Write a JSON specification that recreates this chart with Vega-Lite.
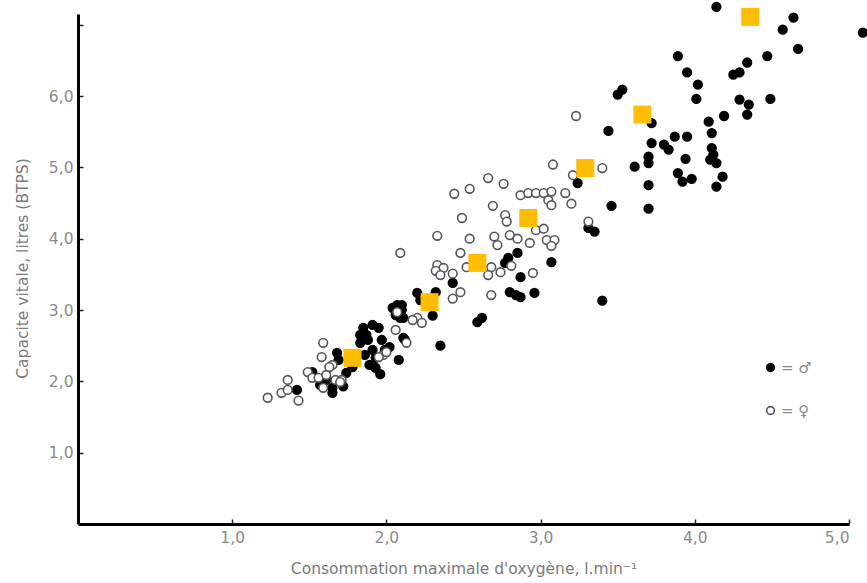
{
  "$schema": "https://vega.github.io/schema/vega-lite/v6.json",
  "width": 771,
  "height": 510,
  "autosize": {"type": "none"},
  "padding": {"left": 78, "top": 14, "right": 18, "bottom": 59},
  "background": "white",
  "config": {
    "view": {"stroke": null},
    "font": "DejaVu Sans",
    "axis": {"grid": false, "domainColor": "#000000", "domainWidth": 3, "tickColor": "#222222", "tickWidth": 1.5, "labelColor": "#8a8a8a", "titleColor": "#7a7a7a", "labelFont": "DejaVu Sans", "titleFont": "DejaVu Sans", "titleFontWeight": "normal"}
  },
  "datasets": {
    "pts": [
      {"x":4.14,"y":7.25,"g":"♂"},{"x":4.64,"y":7.10,"g":"♂"},{"x":4.57,"y":6.93,"g":"♂"},{"x":5.09,"y":6.89,"g":"♂"},
      {"x":4.67,"y":6.66,"g":"♂"},{"x":3.89,"y":6.56,"g":"♂"},{"x":4.47,"y":6.56,"g":"♂"},{"x":4.34,"y":6.47,"g":"♂"},
      {"x":3.95,"y":6.33,"g":"♂"},{"x":4.25,"y":6.30,"g":"♂"},{"x":4.29,"y":6.33,"g":"♂"},{"x":4.02,"y":6.16,"g":"♂"},
      {"x":4.01,"y":5.96,"g":"♂"},{"x":4.29,"y":5.95,"g":"♂"},{"x":4.35,"y":5.88,"g":"♂"},{"x":4.49,"y":5.96,"g":"♂"},
      {"x":4.34,"y":5.74,"g":"♂"},{"x":4.19,"y":5.72,"g":"♂"},{"x":4.09,"y":5.64,"g":"♂"},{"x":3.72,"y":5.62,"g":"♂"},
      {"x":3.53,"y":6.09,"g":"♂"},{"x":3.50,"y":6.02,"g":"♂"},{"x":3.44,"y":5.51,"g":"♂"},{"x":4.11,"y":5.48,"g":"♂"},
      {"x":3.87,"y":5.43,"g":"♂"},{"x":3.95,"y":5.43,"g":"♂"},{"x":3.72,"y":5.34,"g":"♂"},{"x":3.80,"y":5.32,"g":"♂"},
      {"x":3.83,"y":5.25,"g":"♂"},{"x":4.11,"y":5.27,"g":"♂"},{"x":4.12,"y":5.18,"g":"♂"},{"x":4.10,"y":5.11,"g":"♂"},
      {"x":4.14,"y":5.06,"g":"♂"},{"x":3.70,"y":5.15,"g":"♂"},{"x":3.70,"y":5.06,"g":"♂"},{"x":3.94,"y":5.12,"g":"♂"},
      {"x":3.61,"y":5.01,"g":"♂"},{"x":3.89,"y":4.92,"g":"♂"},{"x":3.92,"y":4.80,"g":"♂"},{"x":3.98,"y":4.84,"g":"♂"},
      {"x":4.18,"y":4.87,"g":"♂"},{"x":4.14,"y":4.73,"g":"♂"},{"x":3.70,"y":4.75,"g":"♂"},{"x":3.24,"y":4.78,"g":"♂"},
      {"x":3.46,"y":4.46,"g":"♂"},{"x":3.70,"y":4.42,"g":"♂"},{"x":3.31,"y":4.15,"g":"♂"},{"x":3.35,"y":4.10,"g":"♂"},
      {"x":3.40,"y":3.13,"g":"♂"},{"x":2.85,"y":3.80,"g":"♂"},{"x":3.07,"y":3.67,"g":"♂"},{"x":2.77,"y":3.66,"g":"♂"},
      {"x":2.79,"y":3.73,"g":"♂"},{"x":2.87,"y":3.46,"g":"♂"},{"x":2.43,"y":3.38,"g":"♂"},{"x":2.80,"y":3.25,"g":"♂"},
      {"x":2.84,"y":3.21,"g":"♂"},{"x":2.87,"y":3.18,"g":"♂"},{"x":2.96,"y":3.24,"g":"♂"},{"x":2.20,"y":3.24,"g":"♂"},
      {"x":2.32,"y":3.25,"g":"♂"},{"x":2.30,"y":2.92,"g":"♂"},{"x":2.59,"y":2.83,"g":"♂"},{"x":2.62,"y":2.89,"g":"♂"},
      {"x":2.10,"y":3.07,"g":"♂"},{"x":2.11,"y":2.89,"g":"♂"},{"x":2.35,"y":2.50,"g":"♂"},{"x":2.12,"y":2.58,"g":"♂"},
      {"x":2.04,"y":3.03,"g":"♂"},{"x":2.07,"y":3.07,"g":"♂"},{"x":2.10,"y":3.00,"g":"♂"},{"x":2.06,"y":2.93,"g":"♂"},
      {"x":2.09,"y":2.89,"g":"♂"},{"x":1.83,"y":2.54,"g":"♂"},{"x":1.87,"y":2.65,"g":"♂"},{"x":1.85,"y":2.75,"g":"♂"},
      {"x":1.91,"y":2.79,"g":"♂"},{"x":1.95,"y":2.75,"g":"♂"},{"x":1.86,"y":2.37,"g":"♂"},{"x":1.89,"y":2.23,"g":"♂"},
      {"x":1.93,"y":2.33,"g":"♂"},{"x":1.91,"y":2.44,"g":"♂"},{"x":1.97,"y":2.58,"g":"♂"},{"x":1.99,"y":2.44,"g":"♂"},
      {"x":2.02,"y":2.48,"g":"♂"},{"x":2.08,"y":2.30,"g":"♂"},{"x":2.11,"y":2.61,"g":"♂"},{"x":1.68,"y":2.40,"g":"♂"},
      {"x":1.69,"y":2.30,"g":"♂"},{"x":1.52,"y":2.13,"g":"♂"},{"x":1.61,"y":2.02,"g":"♂"},{"x":1.65,"y":1.91,"g":"♂"},
      {"x":1.65,"y":1.84,"g":"♂"},{"x":1.42,"y":1.88,"g":"♂"},{"x":1.74,"y":2.12,"g":"♂"},{"x":1.93,"y":2.19,"g":"♂"},
      {"x":1.83,"y":2.65,"g":"♂"},{"x":1.88,"y":2.58,"g":"♂"},{"x":2.22,"y":3.14,"g":"♂"},
      {"x":1.57,"y":1.95,"g":"♂"},{"x":1.72,"y":1.93,"g":"♂"},{"x":1.78,"y":2.20,"g":"♂"},{"x":1.96,"y":2.10,"g":"♂"},
      {"x":3.23,"y":5.72,"g":"♀"},{"x":3.08,"y":5.04,"g":"♀"},{"x":2.66,"y":4.85,"g":"♀"},{"x":2.76,"y":4.77,"g":"♀"},
      {"x":2.54,"y":4.70,"g":"♀"},{"x":2.44,"y":4.63,"g":"♀"},{"x":2.87,"y":4.61,"g":"♀"},{"x":2.92,"y":4.64,"g":"♀"},
      {"x":2.97,"y":4.64,"g":"♀"},{"x":3.02,"y":4.64,"g":"♀"},{"x":3.07,"y":4.66,"g":"♀"},{"x":3.16,"y":4.64,"g":"♀"},
      {"x":3.20,"y":4.49,"g":"♀"},{"x":3.05,"y":4.54,"g":"♀"},{"x":3.07,"y":4.47,"g":"♀"},{"x":2.69,"y":4.46,"g":"♀"},
      {"x":2.49,"y":4.29,"g":"♀"},{"x":2.77,"y":4.33,"g":"♀"},{"x":2.78,"y":4.24,"g":"♀"},{"x":2.97,"y":4.12,"g":"♀"},
      {"x":3.02,"y":4.14,"g":"♀"},{"x":2.33,"y":4.04,"g":"♀"},{"x":2.54,"y":4.00,"g":"♀"},{"x":2.70,"y":4.03,"g":"♀"},
      {"x":2.72,"y":3.91,"g":"♀"},{"x":2.80,"y":4.05,"g":"♀"},{"x":2.85,"y":4.00,"g":"♀"},{"x":2.93,"y":3.94,"g":"♀"},
      {"x":3.04,"y":3.98,"g":"♀"},{"x":3.09,"y":3.98,"g":"♀"},{"x":3.07,"y":3.90,"g":"♀"},{"x":2.09,"y":3.80,"g":"♀"},
      {"x":2.48,"y":3.80,"g":"♀"},{"x":2.52,"y":3.60,"g":"♀"},{"x":2.68,"y":3.60,"g":"♀"},{"x":2.74,"y":3.53,"g":"♀"},
      {"x":2.81,"y":3.62,"g":"♀"},{"x":2.33,"y":3.63,"g":"♀"},{"x":2.37,"y":3.59,"g":"♀"},{"x":2.32,"y":3.55,"g":"♀"},
      {"x":2.35,"y":3.49,"g":"♀"},{"x":2.43,"y":3.51,"g":"♀"},{"x":2.66,"y":3.49,"g":"♀"},{"x":2.95,"y":3.52,"g":"♀"},
      {"x":2.48,"y":3.25,"g":"♀"},{"x":2.43,"y":3.16,"g":"♀"},{"x":2.68,"y":3.21,"g":"♀"},{"x":2.20,"y":2.89,"g":"♀"},
      {"x":2.23,"y":2.82,"g":"♀"},{"x":3.21,"y":4.89,"g":"♀"},{"x":3.40,"y":4.99,"g":"♀"},{"x":3.31,"y":4.24,"g":"♀"},
      {"x":1.23,"y":1.77,"g":"♀"},{"x":1.32,"y":1.84,"g":"♀"},{"x":1.36,"y":2.02,"g":"♀"},{"x":1.36,"y":1.88,"g":"♀"},
      {"x":1.43,"y":1.73,"g":"♀"},{"x":1.49,"y":2.13,"g":"♀"},{"x":1.52,"y":2.05,"g":"♀"},{"x":1.56,"y":2.05,"g":"♀"},
      {"x":1.59,"y":1.91,"g":"♀"},{"x":1.61,"y":2.09,"g":"♀"},{"x":1.67,"y":2.02,"g":"♀"},{"x":1.65,"y":2.23,"g":"♀"},
      {"x":1.59,"y":2.54,"g":"♀"},{"x":1.58,"y":2.34,"g":"♀"},{"x":1.71,"y":2.02,"g":"♀"},{"x":1.98,"y":2.37,"g":"♀"},
      {"x":2.07,"y":2.97,"g":"♀"},{"x":2.06,"y":2.72,"g":"♀"},{"x":2.13,"y":2.54,"g":"♀"},{"x":2.17,"y":2.86,"g":"♀"},
      {"x":1.95,"y":2.34,"g":"♀"},{"x":2.00,"y":2.41,"g":"♀"},{"x":1.70,"y":1.99,"g":"♀"},{"x":1.63,"y":2.20,"g":"♀"}
    ],
    "moy": [
      {"x":1.78,"y":2.33},{"x":2.28,"y":3.11},{"x":2.59,"y":3.66},{"x":2.92,"y":4.29},
      {"x":3.29,"y":4.99},{"x":3.66,"y":5.74},{"x":4.36,"y":7.11}
    ]
  },
  "layer": [
    {
      "data": {"name": "pts"},
      "mark": {"type": "point", "shape": "circle", "size": 75, "strokeWidth": 1.6, "opacity": 1, "fillOpacity": 1, "strokeOpacity": 1},
      "encoding": {
        "x": {"field": "x", "type": "quantitative", "scale": {"domain": [0, 5], "nice": false, "zero": false},
          "axis": {"values": [1, 2, 3, 4, 5], "labelExpr": "replace(format(datum.value, '.1f'), '.', ',')", "tickSize": -5, "labelPadding": 11, "labelFontSize": 15.5,
            "title": "Consommation maximale d'oxygène, l.min⁻¹", "titleFontSize": 15.5, "titlePadding": 16}},
        "y": {"field": "y", "type": "quantitative", "scale": {"domain": [0, 7.15], "nice": false, "zero": false},
          "axis": {"values": [1, 2, 3, 4, 5, 6, 7], "labelExpr": "datum.value == 7 ? '' : replace(format(datum.value, '.1f'), '.', ',')", "tickSize": -5, "labelPadding": 10, "labelFontSize": 15.5,
            "title": "Capacite vitale, litres (BTPS)", "titleFontSize": 15.5, "titleX": -56, "titleY": 254, "titleAngle": 270, "titleAlign": "center", "titleBaseline": "middle"}},
        "fill": {"field": "g", "type": "nominal", "scale": {"domain": ["♂", "♀"], "range": ["#000000", "#ffffff"]},
          "legend": {"title": null, "orient": "none", "legendX": 685, "legendY": 346, "symbolSize": 60, "symbolStrokeWidth": 1.6, "rowPadding": 27, "labelFontSize": 15, "labelColor": "#8a8a8a", "labelOffset": 3, "labelExpr": "'= ' + datum.label"}},
        "stroke": {"field": "g", "type": "nominal", "scale": {"domain": ["♂", "♀"], "range": ["#000000", "#555560"]},
          "legend": {"title": null, "orient": "none", "legendX": 685, "legendY": 346, "symbolSize": 60, "symbolStrokeWidth": 1.6, "rowPadding": 27, "labelFontSize": 15, "labelColor": "#8a8a8a", "labelOffset": 3, "labelExpr": "'= ' + datum.label"}}
      }
    },
    {
      "data": {"name": "moy"},
      "mark": {"type": "square", "size": 324, "color": "#FDBD00", "opacity": 1},
      "encoding": {
        "x": {"field": "x", "type": "quantitative"},
        "y": {"field": "y", "type": "quantitative"}
      }
    }
  ]
}
